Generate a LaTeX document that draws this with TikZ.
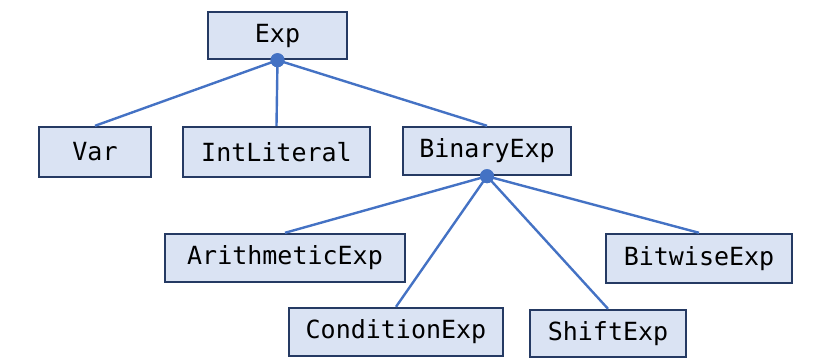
\documentclass[tikz,border=0pt]{standalone}
\usepackage{fontspec}
\setmonofont{DejaVu Sans Mono}
\definecolor{boxfill}{HTML}{DAE3F3}
\definecolor{boxline}{HTML}{253A63}
\definecolor{edge}{HTML}{4472C4}
\begin{document}
\begin{tikzpicture}[x=1pt,y=-1pt,
  classbox/.style={draw=boxline, fill=boxfill, line width=2.4pt, inner sep=0pt,
    font=\ttfamily\fontsize{25}{29}\selectfont, text=black},
  link/.style={draw=edge, line width=2.4pt},
  joint/.style={circle, fill=edge, inner sep=0pt, minimum size=14pt}]
\useasboundingbox (0,0) rectangle (838,364);

% class hierarchy boxes
\node[classbox, minimum width=139pt, minimum height=47pt] (exp) at (277.5,35.5) {Exp};
\node[classbox, minimum width=112pt, minimum height=50pt] (var) at (95,152) {Var};
\node[classbox, minimum width=187pt, minimum height=50pt] (int) at (276.5,152) {IntLiteral};
\node[classbox, minimum width=168pt, minimum height=48pt] (bin) at (487,151) {BinaryExp};
\node[classbox, minimum width=240pt, minimum height=48pt] (ari) at (285,258) {ArithmeticExp};
\node[classbox, minimum width=186pt, minimum height=49pt] (bit) at (699,258.5) {BitwiseExp};
\node[classbox, minimum width=214pt, minimum height=48pt] (con) at (396,332) {ConditionExp};
\node[classbox, minimum width=156pt, minimum height=47pt] (shi) at (608,333.5) {ShiftExp};

% inheritance links
\node[joint] (j1) at (exp.south) {};
\node[joint] (j2) at (bin.south) {};
\draw[link] (j1.center) -- (var.north);
\draw[link] (j1.center) -- (int.north);
\draw[link] (j1.center) -- (bin.north);
\draw[link] (j2.center) -- (ari.north);
\draw[link] (j2.center) -- (con.north);
\draw[link] (j2.center) -- (shi.north);
\draw[link] (j2.center) -- (bit.north);
\node[joint] at (j1) {};
\node[joint] at (j2) {};
\end{tikzpicture}
\end{document}
